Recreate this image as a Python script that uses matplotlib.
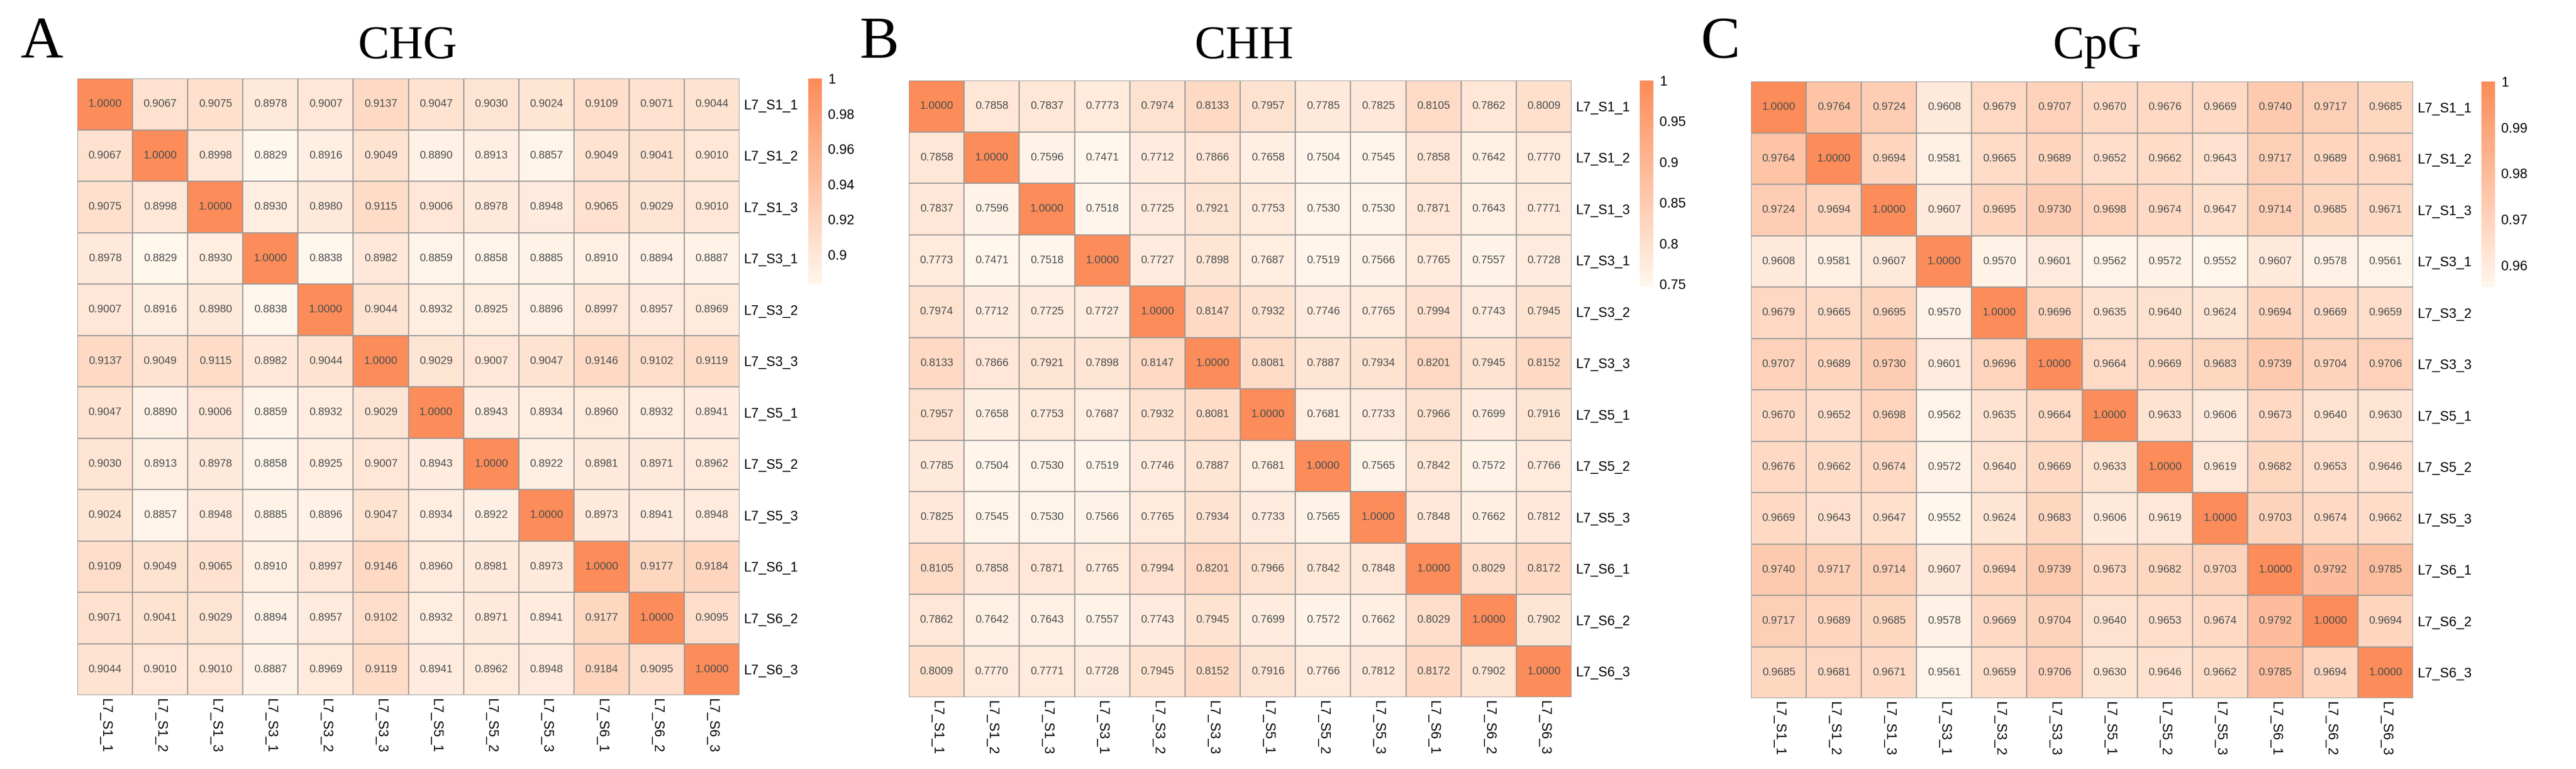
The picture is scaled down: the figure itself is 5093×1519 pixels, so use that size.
import matplotlib
matplotlib.use("Agg")
import matplotlib.pyplot as plt
from matplotlib.colors import LinearSegmentedColormap
import numpy as np

samples = ["L7_S1_1", "L7_S1_2", "L7_S1_3", "L7_S3_1", "L7_S3_2", "L7_S3_3",
           "L7_S5_1", "L7_S5_2", "L7_S5_3", "L7_S6_1", "L7_S6_2", "L7_S6_3"]

chg = [
    [1.0000, 0.9067, 0.9075, 0.8978, 0.9007, 0.9137, 0.9047, 0.9030, 0.9024, 0.9109, 0.9071, 0.9044],
    [0.9067, 1.0000, 0.8998, 0.8829, 0.8916, 0.9049, 0.8890, 0.8913, 0.8857, 0.9049, 0.9041, 0.9010],
    [0.9075, 0.8998, 1.0000, 0.8930, 0.8980, 0.9115, 0.9006, 0.8978, 0.8948, 0.9065, 0.9029, 0.9010],
    [0.8978, 0.8829, 0.8930, 1.0000, 0.8838, 0.8982, 0.8859, 0.8858, 0.8885, 0.8910, 0.8894, 0.8887],
    [0.9007, 0.8916, 0.8980, 0.8838, 1.0000, 0.9044, 0.8932, 0.8925, 0.8896, 0.8997, 0.8957, 0.8969],
    [0.9137, 0.9049, 0.9115, 0.8982, 0.9044, 1.0000, 0.9029, 0.9007, 0.9047, 0.9146, 0.9102, 0.9119],
    [0.9047, 0.8890, 0.9006, 0.8859, 0.8932, 0.9029, 1.0000, 0.8943, 0.8934, 0.8960, 0.8932, 0.8941],
    [0.9030, 0.8913, 0.8978, 0.8858, 0.8925, 0.9007, 0.8943, 1.0000, 0.8922, 0.8981, 0.8971, 0.8962],
    [0.9024, 0.8857, 0.8948, 0.8885, 0.8896, 0.9047, 0.8934, 0.8922, 1.0000, 0.8973, 0.8941, 0.8948],
    [0.9109, 0.9049, 0.9065, 0.8910, 0.8997, 0.9146, 0.8960, 0.8981, 0.8973, 1.0000, 0.9177, 0.9184],
    [0.9071, 0.9041, 0.9029, 0.8894, 0.8957, 0.9102, 0.8932, 0.8971, 0.8941, 0.9177, 1.0000, 0.9095],
    [0.9044, 0.9010, 0.9010, 0.8887, 0.8969, 0.9119, 0.8941, 0.8962, 0.8948, 0.9184, 0.9095, 1.0000],
]

chh = [
    [1.0000, 0.7858, 0.7837, 0.7773, 0.7974, 0.8133, 0.7957, 0.7785, 0.7825, 0.8105, 0.7862, 0.8009],
    [0.7858, 1.0000, 0.7596, 0.7471, 0.7712, 0.7866, 0.7658, 0.7504, 0.7545, 0.7858, 0.7642, 0.7770],
    [0.7837, 0.7596, 1.0000, 0.7518, 0.7725, 0.7921, 0.7753, 0.7530, 0.7530, 0.7871, 0.7643, 0.7771],
    [0.7773, 0.7471, 0.7518, 1.0000, 0.7727, 0.7898, 0.7687, 0.7519, 0.7566, 0.7765, 0.7557, 0.7728],
    [0.7974, 0.7712, 0.7725, 0.7727, 1.0000, 0.8147, 0.7932, 0.7746, 0.7765, 0.7994, 0.7743, 0.7945],
    [0.8133, 0.7866, 0.7921, 0.7898, 0.8147, 1.0000, 0.8081, 0.7887, 0.7934, 0.8201, 0.7945, 0.8152],
    [0.7957, 0.7658, 0.7753, 0.7687, 0.7932, 0.8081, 1.0000, 0.7681, 0.7733, 0.7966, 0.7699, 0.7916],
    [0.7785, 0.7504, 0.7530, 0.7519, 0.7746, 0.7887, 0.7681, 1.0000, 0.7565, 0.7842, 0.7572, 0.7766],
    [0.7825, 0.7545, 0.7530, 0.7566, 0.7765, 0.7934, 0.7733, 0.7565, 1.0000, 0.7848, 0.7662, 0.7812],
    [0.8105, 0.7858, 0.7871, 0.7765, 0.7994, 0.8201, 0.7966, 0.7842, 0.7848, 1.0000, 0.8029, 0.8172],
    [0.7862, 0.7642, 0.7643, 0.7557, 0.7743, 0.7945, 0.7699, 0.7572, 0.7662, 0.8029, 1.0000, 0.7902],
    [0.8009, 0.7770, 0.7771, 0.7728, 0.7945, 0.8152, 0.7916, 0.7766, 0.7812, 0.8172, 0.7902, 1.0000],
]

cpg = [
    [1.0000, 0.9764, 0.9724, 0.9608, 0.9679, 0.9707, 0.9670, 0.9676, 0.9669, 0.9740, 0.9717, 0.9685],
    [0.9764, 1.0000, 0.9694, 0.9581, 0.9665, 0.9689, 0.9652, 0.9662, 0.9643, 0.9717, 0.9689, 0.9681],
    [0.9724, 0.9694, 1.0000, 0.9607, 0.9695, 0.9730, 0.9698, 0.9674, 0.9647, 0.9714, 0.9685, 0.9671],
    [0.9608, 0.9581, 0.9607, 1.0000, 0.9570, 0.9601, 0.9562, 0.9572, 0.9552, 0.9607, 0.9578, 0.9561],
    [0.9679, 0.9665, 0.9695, 0.9570, 1.0000, 0.9696, 0.9635, 0.9640, 0.9624, 0.9694, 0.9669, 0.9659],
    [0.9707, 0.9689, 0.9730, 0.9601, 0.9696, 1.0000, 0.9664, 0.9669, 0.9683, 0.9739, 0.9704, 0.9706],
    [0.9670, 0.9652, 0.9698, 0.9562, 0.9635, 0.9664, 1.0000, 0.9633, 0.9606, 0.9673, 0.9640, 0.9630],
    [0.9676, 0.9662, 0.9674, 0.9572, 0.9640, 0.9669, 0.9633, 1.0000, 0.9619, 0.9682, 0.9653, 0.9646],
    [0.9669, 0.9643, 0.9647, 0.9552, 0.9624, 0.9683, 0.9606, 0.9619, 1.0000, 0.9703, 0.9674, 0.9662],
    [0.9740, 0.9717, 0.9714, 0.9607, 0.9694, 0.9739, 0.9673, 0.9682, 0.9703, 1.0000, 0.9792, 0.9785],
    [0.9717, 0.9689, 0.9685, 0.9578, 0.9669, 0.9704, 0.9640, 0.9653, 0.9674, 0.9792, 1.0000, 0.9694],
    [0.9685, 0.9681, 0.9671, 0.9561, 0.9659, 0.9706, 0.9630, 0.9646, 0.9662, 0.9785, 0.9694, 1.0000],
]

titles = ["CHG", "CHH", "CpG"]
letters = ["A", "B", "C"]
chg_ticks = [0.9, 0.92, 0.94, 0.96, 0.98, 1.0]
chg_ticklabels = ["0.9", "0.92", "0.94", "0.96", "0.98", "1"]
chh_ticks = [0.75, 0.8, 0.85, 0.9, 0.95, 1.0]
chh_ticklabels = ["0.75", "0.8", "0.85", "0.9", "0.95", "1"]
cpg_ticks = [0.96, 0.97, 0.98, 0.99, 1.0]
cpg_ticklabels = ["0.96", "0.97", "0.98", "0.99", "1"]

W, H = 5093, 1519
DPI = 100
fig = plt.figure(figsize=(W / DPI, H / DPI), dpi=DPI)
fig.patch.set_facecolor("white")

cmap = LinearSegmentedColormap.from_list("pe", ["#FFF6EC", "#FC8C59"], N=100)

def px_axes(x0, y0, x1, y1):
    return fig.add_axes([x0 / W, 1 - y1 / H, (x1 - x0) / W, (y1 - y0) / H])

panels = [
    dict(data=chg, ticks=chg_ticks, tl=chg_ticklabels,
         box=(153, 155, 1462, 1373), cbar=(1598, 155, 1625, 562),
         tx=805, lx=41),
    dict(data=chh, ticks=chh_ticks, tl=chh_ticklabels,
         box=(1797, 159, 3107, 1377), cbar=(3242, 159, 3269, 566),
         tx=2459, lx=1700),
    dict(data=cpg, ticks=cpg_ticks, tl=cpg_ticklabels,
         box=(3462, 161, 4771, 1379), cbar=(4906, 161, 4933, 567),
         tx=4146, lx=3362),
]

sans = ["Liberation Sans", "DejaVu Sans"]
serif = ["Liberation Serif", "DejaVu Serif"]

for i, p in enumerate(panels):
    M = np.array(p["data"])
    n = M.shape[0]
    ax = px_axes(*p["box"])
    vmin, vmax = M.min(), M.max()
    mesh = ax.pcolormesh(np.arange(n + 1), np.arange(n + 1), M, cmap=cmap,
                         vmin=vmin, vmax=vmax, edgecolors="#999999",
                         linewidth=1.6, antialiased=True)
    ax.set_xlim(0, n)
    ax.set_ylim(n, 0)
    for s in ax.spines.values():
        s.set_visible(False)
    for r in range(n):
        for c in range(n):
            ax.text(c + 0.5, r + 0.5, f"{M[r, c]:.4f}", ha="center", va="center",
                    fontsize=15.5, color="#4D4D4D", family=sans)
    ax.yaxis.tick_right()
    ax.set_yticks(np.arange(n) + 0.5)
    ax.set_yticklabels(samples, fontsize=19.3, family=sans)
    ax.set_xticks(np.arange(n) + 0.5)
    ax.set_xticklabels(samples, fontsize=19.3, family=sans, rotation=-90,
                       ha="center", va="top")
    ax.tick_params(axis="both", length=0)
    ax.tick_params(axis="y", pad=6)
    ax.tick_params(axis="x", pad=5)

    cax = px_axes(*p["cbar"])
    cb = fig.colorbar(mesh, cax=cax)
    cb.outline.set_visible(False)
    cb.set_ticks(p["ticks"])
    cb.set_ticklabels(p["tl"])
    cax.tick_params(length=0, pad=9)
    for t in cax.get_yticklabels():
        t.set_fontsize(19.3)
        t.set_family(sans)

    fig.text(p["tx"] / W, 1 - 115 / H, titles[i], ha="center", va="baseline",
             fontsize=67, family=serif)
    fig.text(p["lx"] / W, 1 - 114 / H, letters[i], ha="left", va="baseline",
             fontsize=84, family=serif)

fig.savefig("out.png", dpi=DPI, facecolor="white")
